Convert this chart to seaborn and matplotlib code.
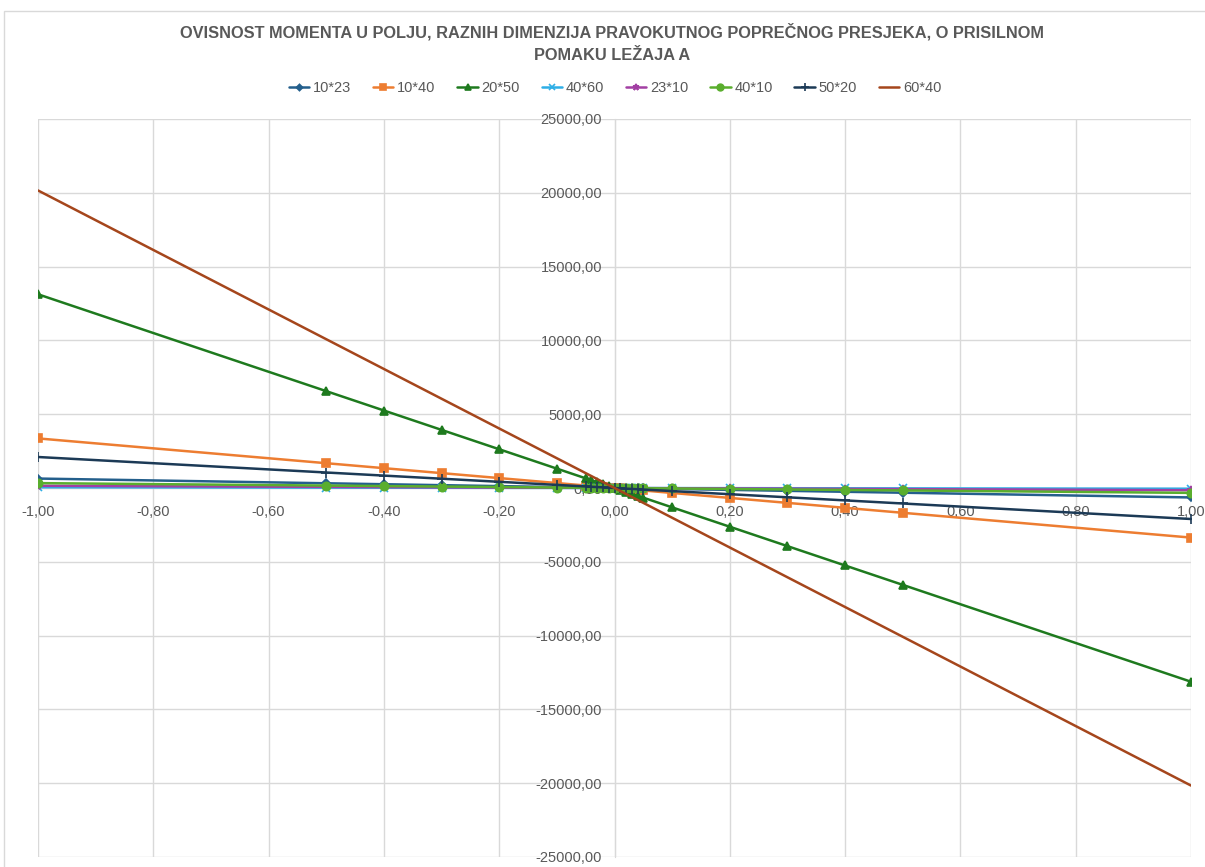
import numpy as np
import pandas as pd
import matplotlib
matplotlib.use("Agg")
import matplotlib.pyplot as plt
import seaborn as sns
from matplotlib.ticker import FuncFormatter, MultipleLocator

# forced support displacement (x axis)
displacement = [-1.00, -0.50, -0.40, -0.30, -0.20, -0.10, -0.05, -0.04, -0.03, -0.02, -0.01,
                0.00, 0.01, 0.02, 0.03, 0.04, 0.05, 0.10, 0.20, 0.30, 0.40, 0.50, 1.00]

# field moment per cross section
m_10x23 = [640, 320, 256, 192, 128, 64, 32, 25.6, 19.2, 12.8, 6.4,
           0, -6.4, -12.8, -19.2, -25.6, -32, -64, -128, -192, -256, -320, -640]
m_10x40 = [3360, 1680, 1344, 1008, 672, 336, 168, 134.4, 100.8, 67.2, 33.6,
           0, -33.6, -67.2, -100.8, -134.4, -168, -336, -672, -1008, -1344, -1680, -3360]
m_20x50 = [13125, 6562.5, 5250, 3937.5, 2625, 1312.5, 656.3, 525, 393.8, 262.5, 131.3,
           0, -131.3, -262.5, -393.8, -525, -656.3, -1312.5, -2625, -3937.5, -5250, -6562.5, -13125]
m_40x60 = [50, 25, 20, 15, 10, 5, 2.5, 2, 1.5, 1, 0.5,
           0, -0.5, -1, -1.5, -2, -2.5, -5, -10, -15, -20, -25, -50]
m_23x10 = [150, 75, 60, 45, 30, 15, 7.5, 6, 4.5, 3, 1.5,
           0, -1.5, -3, -4.5, -6, -7.5, -15, -30, -45, -60, -75, -150]
m_40x10 = [330, 165, 132, 99, 66, 33, 16.5, 13.2, 9.9, 6.6, 3.3,
           0, -3.3, -6.6, -9.9, -13.2, -16.5, -33, -66, -99, -132, -165, -330]
m_50x20 = [2100, 1050, 840, 630, 420, 210, 105, 84, 63, 42, 21,
           0, -21, -42, -63, -84, -105, -210, -420, -630, -840, -1050, -2100]
m_60x40 = [20160, 10080, 8064, 6048, 4032, 2016, 1008, 806.4, 604.8, 403.2, 201.6,
           0, -201.6, -403.2, -604.8, -806.4, -1008, -2016, -4032, -6048, -8064, -10080, -20160]

series_names = ["10*23", "10*40", "20*50", "40*60", "23*10", "40*10", "50*20", "60*40"]
series_values = [m_10x23, m_10x40, m_20x50, m_40x60, m_23x10, m_40x10, m_50x20, m_60x40]

colors = ["#245f8c", "#ed7d31", "#1e7a1e", "#2eaee6", "#a23fa3", "#5aae2e", "#1c3a56", "#a5461c"]
markers = ["D", "s", "^", "x", "*", "o", "+", None]
msizes = [4, 6, 6, 6, 6, 6, 7, 0]

df = pd.DataFrame({
    "x": np.tile(displacement, len(series_names)),
    "M": np.concatenate(series_values),
    "serija": np.repeat(series_names, len(displacement)),
})

sns.set_style("white")
plt.rcParams["font.family"] = ["Liberation Sans", "DejaVu Sans"]
grey = "#595959"

fig = plt.figure(figsize=(12.05, 8.67), dpi=100)
ax = fig.add_axes([38 / 1205, 1 - 857 / 867, (1191 - 38) / 1205, (857 - 119) / 867])

for name, col, mk, ms in zip(series_names, colors, markers, msizes):
    sub = df[df["serija"] == name]
    sns.lineplot(data=sub, x="x", y="M", ax=ax, color=col, marker=mk, markersize=ms,
                 markeredgecolor=col, markeredgewidth=1.2, linewidth=1.8, label=name,
                 sort=False, estimator=None)

ax.set_xlim(-1, 1)
ax.set_ylim(-25000, 25000)
ax.xaxis.set_major_locator(MultipleLocator(0.2))
ax.yaxis.set_major_locator(MultipleLocator(5000))
ax.xaxis.set_major_formatter(FuncFormatter(lambda v, p: f"{v:.2f}".replace(".", ",").replace("-0,00", "0,00")))
ax.yaxis.set_major_formatter(FuncFormatter(lambda v, p: f"{v:.2f}".replace(".", ",")))
ax.grid(True, color="#d9d9d9", linewidth=1)
ax.set_axisbelow(True)

for s in ["top", "right"]:
    ax.spines[s].set_visible(False)
ax.spines["left"].set_position(("data", 0))
ax.spines["bottom"].set_position(("data", 0))
ax.spines["left"].set_color("#d9d9d9")
ax.spines["bottom"].set_color("#d9d9d9")
ax.spines["left"].set_zorder(0)
ax.spines["bottom"].set_zorder(0)
ax.tick_params(axis="both", length=0, labelsize=10.5, labelcolor=grey)
ax.tick_params(axis="x", pad=12)
ax.tick_params(axis="y", pad=9)
ax.set_xlabel("")
ax.set_ylabel("")

leg = ax.legend(loc="center", bbox_to_anchor=(615 / 1205, 1 - 88 / 867),
                bbox_transform=fig.transFigure, ncol=8, frameon=False,
                fontsize=10.5, handlelength=1.4, columnspacing=1.5, handletextpad=0.25,
                markerscale=0.8)
for t in leg.get_texts():
    t.set_color(grey)

title_kw = dict(ha="center", va="center", fontsize=11.8, fontweight="bold", color=grey)
fig.text(0.508, 1 - 32 / 867, "OVISNOST MOMENTA U POLJU, RAZNIH DIMENZIJA PRAVOKUTNOG POPREČNOG PRESJEKA, O PRISILNOM",
         **title_kw)
fig.text(0.508, 1 - 55 / 867, "POMAKU LEŽAJA A", **title_kw)

# outer chart frame
fig.add_artist(plt.Rectangle((4 / 1205, -0.01), 1.0, 1 - 11 / 867 + 0.01, transform=fig.transFigure,
                             fill=False, edgecolor="#d9d9d9", linewidth=1))

fig.savefig("out.png", dpi=100)
